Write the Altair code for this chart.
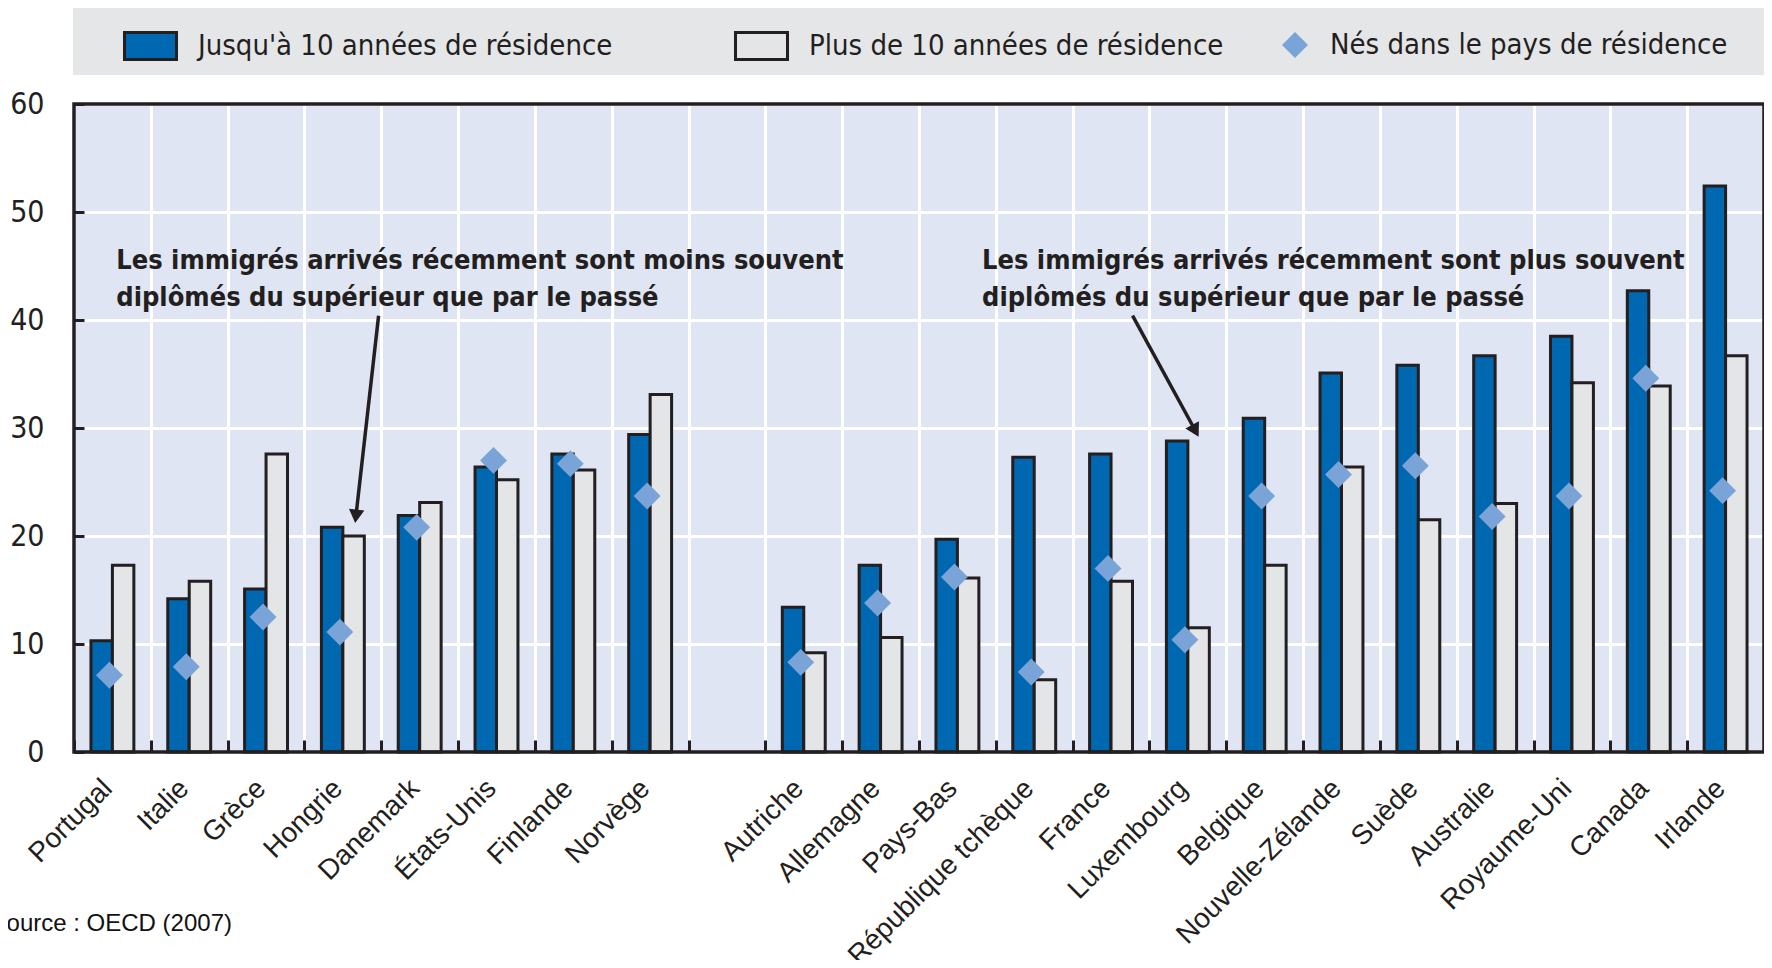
import math
import altair as alt
import pandas as pd

# ---------------- data ----------------
left_countries = ["Portugal", "Italie", "Grèce", "Hongrie", "Danemark",
                  "États-Unis", "Finlande", "Norvège"]
right_countries = ["Autriche", "Allemagne", "Pays-Bas", "République tchèque",
                   "France", "Luxembourg", "Belgique", "Nouvelle-Zélande",
                   "Suède", "Australie", "Royaume-Uni", "Canada", "Irlande"]
gap_slot = " "

recent = [10.3, 14.2, 15.1, 20.8, 21.9, 26.4, 27.6, 29.4,
          13.4, 17.3, 19.7, 27.3, 27.6, 28.8, 30.9, 35.1, 35.8, 36.7, 38.5, 42.7, 52.4]
older = [17.3, 15.8, 27.6, 20.0, 23.1, 25.2, 26.1, 33.1,
         9.2, 10.6, 16.1, 6.7, 15.8, 11.5, 17.3, 26.4, 21.5, 23.0, 34.2, 33.9, 36.7]
native = [7.1, 7.9, 12.5, 11.1, 20.8, 27.0, 26.7, 23.7,
          8.3, 13.8, 16.2, 7.4, 17.0, 10.4, 23.7, 25.7, 26.5, 21.8, 23.7, 34.6, 24.2]

series = ["Jusqu'à 10 années de résidence",
          "Plus de 10 années de résidence",
          "Nés dans le pays de résidence"]
y_ticks = [0, 10, 20, 30, 40, 50, 60]

note_texts = ["Les immigrés arrivés récemment sont moins souvent\ndiplômés du supérieur que par le passé",
              "Les immigrés arrivés récemment sont plus souvent\ndiplômés du supérieur que par le passé"]
note_x = [0.55, 11.82]
note_y = [46.7, 46.7]
arrow_from_x = [3.965, 13.78]
arrow_from_y = [40.4, 40.4]
arrow_to_x = [3.66, 14.64]
arrow_to_y = [21.2, 29.2]
source_text = "Source : OECD (2007)"

# ---------------- styling ----------------
W, H = 1690, 648
DARK = "#231f20"
BLUE = "#0067b1"
GRAY = "#e4e5e7"
DIAM = "#7aa3d8"
BG = "#dfe5f2"
LEG_BG = "#e5e6e8"
NARROW = "'Liberation Sans Narrow', 'DejaVu Sans Condensed', 'Arial Narrow', sans-serif"
SANS = "'Liberation Sans', Arial, sans-serif"
RECT_PATH = "M-1,-0.52H1V0.52H-1Z"
DIAM_PATH = "M0,-0.5L0.5,0L0,0.5L-0.5,0Z"

countries = left_countries + right_countries
slots = left_countries + [gap_slot] + right_countries
n_slots = len(slots)

bar_df = pd.DataFrame({
    "pays": countries * 2,
    "serie": [series[0]] * len(countries) + [series[1]] * len(countries),
    "valeur": recent + older,
})
pt_df = pd.DataFrame({"pays": countries, "serie": series[2], "valeur": native})

# arrow heads: pull the head centre back from the tip so the triangle tip lands on it
px_x = W / n_slots
px_y = H / 60.0
HEAD_SIZE = 240
head_h = math.sqrt(3) * (math.sqrt(HEAD_SIZE) / 2) / 2
heads_x, heads_y, heads_a = [], [], []
for fx, fy, tx, ty in zip(arrow_from_x, arrow_from_y, arrow_to_x, arrow_to_y):
    dxs = (tx - fx) * px_x
    dyu = (ty - fy) * px_y
    L = math.hypot(dxs, dyu)
    heads_x.append(tx - dxs / L * head_h / px_x)
    heads_y.append(ty - dyu / L * head_h / px_y)
    heads_a.append(math.degrees(math.atan2(dxs, dyu)) % 360)

arrow_df = pd.DataFrame({"x": arrow_from_x, "y": arrow_from_y, "x2": heads_x, "y2": heads_y})
head_df = pd.DataFrame({"x": heads_x, "y": heads_y, "a": heads_a})
notes_df = pd.DataFrame({"texte": note_texts, "nx": note_x, "ny": note_y})
one = pd.DataFrame({"t": [source_text]})

bar_legend = alt.Legend(title=None, orient="none", legendX=49, legendY=-86,
                        direction="horizontal", columns=2, columnPadding=116, padding=0,
                        symbolType=RECT_PATH, symbolSize=2704,
                        symbolStrokeColor=DARK, symbolStrokeWidth=3,
                        labelFont=NARROW, labelFontSize=29, labelColor=DARK,
                        labelOffset=20, labelLimit=800)
pt_legend = alt.Legend(title=None, orient="none", legendX=1194, legendY=-86,
                       padding=0, symbolSize=2704,
                       symbolFillColor=DIAM, symbolStrokeColor=DIAM, symbolStrokeWidth=2,
                       labelFont=NARROW, labelFontSize=29, labelColor=DARK,
                       labelOffset=8, labelLimit=800)

color_scale = alt.Scale(domain=series[:2], range=[BLUE, GRAY])
shape_scale = alt.Scale(domain=series[2:], range=[DIAM_PATH])

x_axis = alt.Axis(tickBand="extent", offset=-12, tickSize=12, tickWidth=3, tickColor=DARK,
                  domain=False, grid=True, gridColor="white", gridWidth=3,
                  labelAngle=-45, labelAlign="right", labelBaseline="middle",
                  labelPadding=32, labelOffset=-5, labelFont=SANS, labelFontSize=28,
                  labelColor=DARK, labelOverlap=False, labelLimit=500)
y_axis = alt.Axis(values=y_ticks, offset=-10, tickSize=10, tickWidth=3, tickColor=DARK,
                  domain=False, grid=True, gridColor="white", gridWidth=3,
                  labelPadding=30, labelFont=NARROW, labelFontSize=30, labelColor=DARK,
                  title=None)

y_scale = alt.Scale(domain=[0, 60], nice=False)

x_enc = alt.X("pays:N", scale=alt.Scale(domain=slots, paddingInner=0, paddingOuter=0),
              axis=x_axis, title=None)
y_enc = alt.Y("valeur:Q", scale=y_scale, axis=y_axis, title=None)

bars = alt.Chart(bar_df).mark_bar(stroke=DARK, strokeWidth=3).encode(
    x=x_enc,
    xOffset=alt.XOffset("serie:N", scale=alt.Scale(domain=series[:2], paddingInner=0, paddingOuter=0.79)),
    y=y_enc,
    color=alt.Color("serie:N", scale=color_scale, legend=bar_legend),
)

points = alt.Chart(pt_df).mark_point(filled=True, opacity=1, size=2900, strokeWidth=1,
                                     color=DIAM, xOffset=-3).encode(
    x=x_enc,
    y=y_enc,
    shape=alt.Shape("serie:N", scale=shape_scale, legend=pt_legend),
)

main = alt.layer(bars, points)

ux = alt.Scale(domain=[0, n_slots], nice=False, zero=False)

notes = alt.Chart(notes_df).mark_text(
    align="left", baseline="top", lineBreak="\n", font=NARROW, fontWeight="bold",
    fontSize=27, lineHeight=37, color=DARK
).encode(
    x=alt.X("nx:Q", scale=ux, axis=None),
    y=alt.Y("ny:Q", scale=y_scale, axis=y_axis, title=None),
    text="texte:N",
)

arrows = alt.Chart(arrow_df).mark_rule(color=DARK, strokeWidth=3.5).encode(
    x=alt.X("x:Q", scale=ux, axis=None),
    y=alt.Y("y:Q", scale=y_scale, axis=y_axis, title=None),
    x2="x2:Q",
    y2="y2:Q",
)

heads = alt.Chart(head_df).mark_point(shape="triangle-up", filled=True, size=HEAD_SIZE,
                                      color=DARK, opacity=1).encode(
    x=alt.X("x:Q", scale=ux, axis=None),
    y=alt.Y("y:Q", scale=y_scale, axis=y_axis, title=None),
    angle=alt.Angle("a:Q", scale=None),
)

annot = alt.layer(notes, arrows, heads)

legend_bg = alt.Chart(one).mark_rect(fill=LEG_BG).encode(
    x=alt.value(-1), x2=alt.value(W + 4), y=alt.value(-96), y2=alt.value(-29)
)

source = alt.Chart(one).mark_text(align="right", baseline="middle", font=SANS,
                                  fontSize=24, color="#111111").encode(
    x=alt.value(158), y=alt.value(820), text="t:N"
)

frame = alt.Chart(one).mark_rect(fillOpacity=0, stroke=DARK, strokeWidth=3.5).encode(
    x=alt.value(0), x2=alt.value(W), y=alt.value(0), y2=alt.value(H)
)

chart = alt.layer(legend_bg, main, annot, source, frame).resolve_scale(
    x="independent"
).properties(
    width=W, height=H,
    autosize=alt.AutoSizeParams(type="none"),
    padding={"left": 66, "top": 96, "right": 0, "bottom": 208},
    background="white",
).configure_view(fill=BG, stroke="transparent")

chart.save("out.html", embed_options={"renderer": "svg", "actions": False})
